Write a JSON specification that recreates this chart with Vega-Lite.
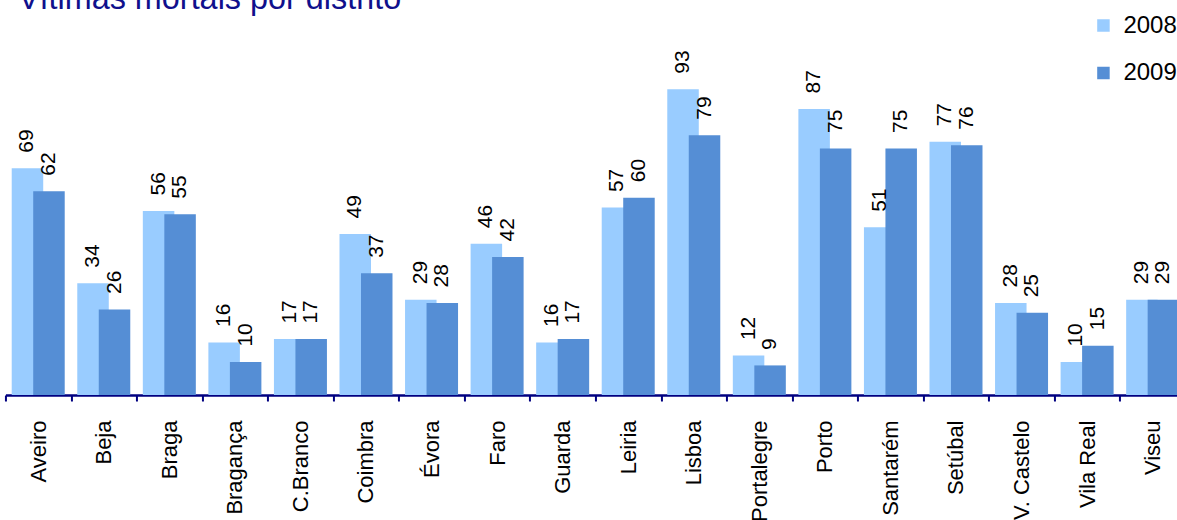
{
  "$schema": "https://vega.github.io/schema/vega-lite/v6.json",
  "autosize": {"type": "none"},
  "width": 1180,
  "height": 394.5,
  "padding": {"left": 5.44, "top": 0.5, "right": 0, "bottom": 130},
  "background": "white",
  "config": {"view": {"stroke": null}, "font": "Liberation Sans"},
  "title": {
    "text": "Vítimas mortais por distrito",
    "anchor": "start",
    "frame": "group",
    "fontSize": 32.4,
    "fontWeight": "normal",
    "color": "#10108c",
    "font": "Liberation Sans",
    "baseline": "alphabetic",
    "offset": -41.3,
    "dx": 12.5
  },
  "data": {
    "values": [
      {"distrito": "Aveiro", "ano": "2008", "vitimas": 69},
      {"distrito": "Aveiro", "ano": "2009", "vitimas": 62},
      {"distrito": "Beja", "ano": "2008", "vitimas": 34},
      {"distrito": "Beja", "ano": "2009", "vitimas": 26},
      {"distrito": "Braga", "ano": "2008", "vitimas": 56},
      {"distrito": "Braga", "ano": "2009", "vitimas": 55},
      {"distrito": "Bragança", "ano": "2008", "vitimas": 16},
      {"distrito": "Bragança", "ano": "2009", "vitimas": 10},
      {"distrito": "C.Branco", "ano": "2008", "vitimas": 17},
      {"distrito": "C.Branco", "ano": "2009", "vitimas": 17},
      {"distrito": "Coimbra", "ano": "2008", "vitimas": 49},
      {"distrito": "Coimbra", "ano": "2009", "vitimas": 37},
      {"distrito": "Évora", "ano": "2008", "vitimas": 29},
      {"distrito": "Évora", "ano": "2009", "vitimas": 28},
      {"distrito": "Faro", "ano": "2008", "vitimas": 46},
      {"distrito": "Faro", "ano": "2009", "vitimas": 42},
      {"distrito": "Guarda", "ano": "2008", "vitimas": 16},
      {"distrito": "Guarda", "ano": "2009", "vitimas": 17},
      {"distrito": "Leiria", "ano": "2008", "vitimas": 57},
      {"distrito": "Leiria", "ano": "2009", "vitimas": 60},
      {"distrito": "Lisboa", "ano": "2008", "vitimas": 93},
      {"distrito": "Lisboa", "ano": "2009", "vitimas": 79},
      {"distrito": "Portalegre", "ano": "2008", "vitimas": 12},
      {"distrito": "Portalegre", "ano": "2009", "vitimas": 9},
      {"distrito": "Porto", "ano": "2008", "vitimas": 87},
      {"distrito": "Porto", "ano": "2009", "vitimas": 75},
      {"distrito": "Santarém", "ano": "2008", "vitimas": 51},
      {"distrito": "Santarém", "ano": "2009", "vitimas": 75},
      {"distrito": "Setúbal", "ano": "2008", "vitimas": 77},
      {"distrito": "Setúbal", "ano": "2009", "vitimas": 76},
      {"distrito": "V. Castelo", "ano": "2008", "vitimas": 28},
      {"distrito": "V. Castelo", "ano": "2009", "vitimas": 25},
      {"distrito": "Vila Real", "ano": "2008", "vitimas": 10},
      {"distrito": "Vila Real", "ano": "2009", "vitimas": 15},
      {"distrito": "Viseu", "ano": "2008", "vitimas": 29},
      {"distrito": "Viseu", "ano": "2009", "vitimas": 29}
    ]
  },
  "encoding": {
    "x": {
      "field": "distrito",
      "type": "nominal",
      "sort": null,
      "scale": {"paddingInner": 0, "paddingOuter": 0},
      "axis": {
        "title": null,
        "labelAngle": -90,
        "labelFontSize": 22,
        "labelColor": "#000000",
        "labelPadding": 19,
        "labelOverlap": false,
        "tickBand": "extent",
        "tickSize": 6,
        "tickWidth": 2,
        "tickColor": "#000080",
        "domainColor": "#000080",
        "domainWidth": 2.5
      }
    },
    "y": {
      "field": "vitimas",
      "type": "quantitative",
      "scale": {"domain": [0, 120]},
      "axis": null
    },
    "color": {
      "field": "ano",
      "type": "nominal",
      "scale": {"domain": ["2008", "2009"], "range": ["#99ccff", "#558ed5"]},
      "legend": {
        "title": null,
        "orient": "none",
        "legendX": 1086,
        "legendY": 13,
        "padding": 0,
        "symbolType": "square",
        "symbolSize": 156,
        "symbolStrokeWidth": 0,
        "labelFontSize": 24,
        "labelColor": "#000000",
        "labelOffset": 8,
        "rowPadding": 23.5
      }
    }
  },
  "layer": [
    {
      "transform": [{"filter": "datum.ano === '2008'"}],
      "mark": {"type": "bar", "width": 31.5, "xOffset": -10.75}
    },
    {
      "transform": [{"filter": "datum.ano === '2009'"}],
      "mark": {"type": "bar", "width": 31.5, "xOffset": 10.75}
    },
    {
      "transform": [{"filter": "datum.ano === '2008'"}],
      "mark": {"type": "text", "angle": 270, "align": "left", "baseline": "middle", "dx": 15.5, "xOffset": -10.75, "fontSize": 21, "color": "#000000"},
      "encoding": {"text": {"field": "vitimas", "type": "quantitative"}, "color": {"value": "#000000"}}
    },
    {
      "transform": [{"filter": "datum.ano === '2009'"}],
      "mark": {"type": "text", "angle": 270, "align": "left", "baseline": "middle", "dx": 15.5, "xOffset": 10.75, "fontSize": 21, "color": "#000000"},
      "encoding": {"text": {"field": "vitimas", "type": "quantitative"}, "color": {"value": "#000000"}}
    }
  ]
}
